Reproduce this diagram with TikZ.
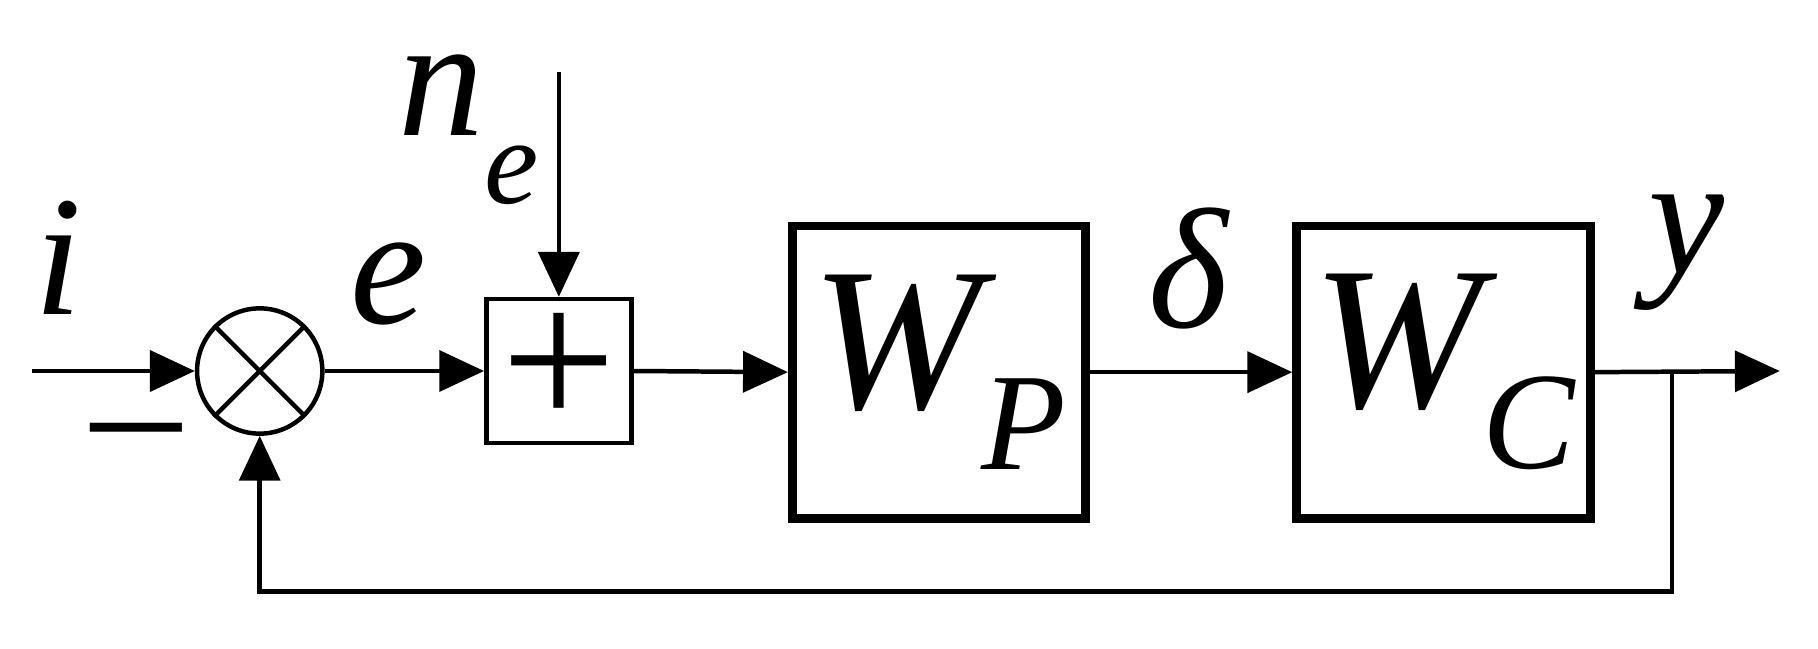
\documentclass[tikz,border=0pt]{standalone}
\usepackage{fontspec}
\setmainfont{Liberation Serif}[ItalicFont=Liberation Serif Italic,UprightFont=Liberation Serif]
\usetikzlibrary{arrows.meta}
\begin{document}
\begin{tikzpicture}[x=0.01cm,y=-0.01cm,
  line width=1.1pt,
  arr/.style={-{Triangle[length=11pt,width=10pt]}},
  bigbox/.style={draw,line width=2.2pt,minimum width=2.53cm,minimum height=2.52cm,inner sep=0pt},
  lbl/.style={font=\fontsize{42}{46}\selectfont\itshape,inner sep=0pt}]
\useasboundingbox (0,0) rectangle (1568,559);
\node[draw,circle,minimum size=1.08cm,inner sep=0pt] (s) at (224,320) {};
\draw (s.north west) -- (s.south east) (s.north east) -- (s.south west);
\coordinate (in) at (28,320);
\node[draw,minimum width=1.25cm,minimum height=1.24cm,inner sep=0pt,font=\fontsize{50}{54}\selectfont] (p) at (482,320) {+};
\coordinate (ntop) at (482,62);
\node[bigbox,font=\fontsize{50}{54}\selectfont\itshape] (wp) at (810,321) {W\raisebox{-0.3em}{\fontsize{34}{36}\selectfont P}};
\node[bigbox,font=\fontsize{50}{54}\selectfont\itshape] (wc) at (1245,321) {W\raisebox{-0.3em}{\fontsize{34}{36}\selectfont C}};
\coordinate (out) at (1535,320);
\coordinate (tap) at (1442,320);
\coordinate (fb1) at (1442,510);
\coordinate (fb2) at (224,510);
\draw[arr] (in) -- (s.west);
\draw[arr] (s.east) -- (p.west);
\draw[arr] (ntop) -- (p.north);
\draw[arr] (p.east) -- (wp.west);
\draw[arr] (wp.east) -- (wc.west);
\draw[arr] (wc.east) -- (out);
\draw[arr] (tap) -- (fb1) -- (fb2) -- (s.south);
\node[lbl] (li) at (50,222) {i};
\node[inner sep=0pt,font=\fontsize{44}{48}\selectfont] (lm) at (118,385) {–};
\node[lbl] (le) at (335,245) {e};
\node[lbl] (ln) at (404,112) {n\raisebox{-0.4em}{\fontsize{30}{32}\selectfont e}};
\node[lbl] (ld) at (1025,232) {δ};
\node[lbl] (ly) at (1455,218) {y};
\end{tikzpicture}
\end{document}
